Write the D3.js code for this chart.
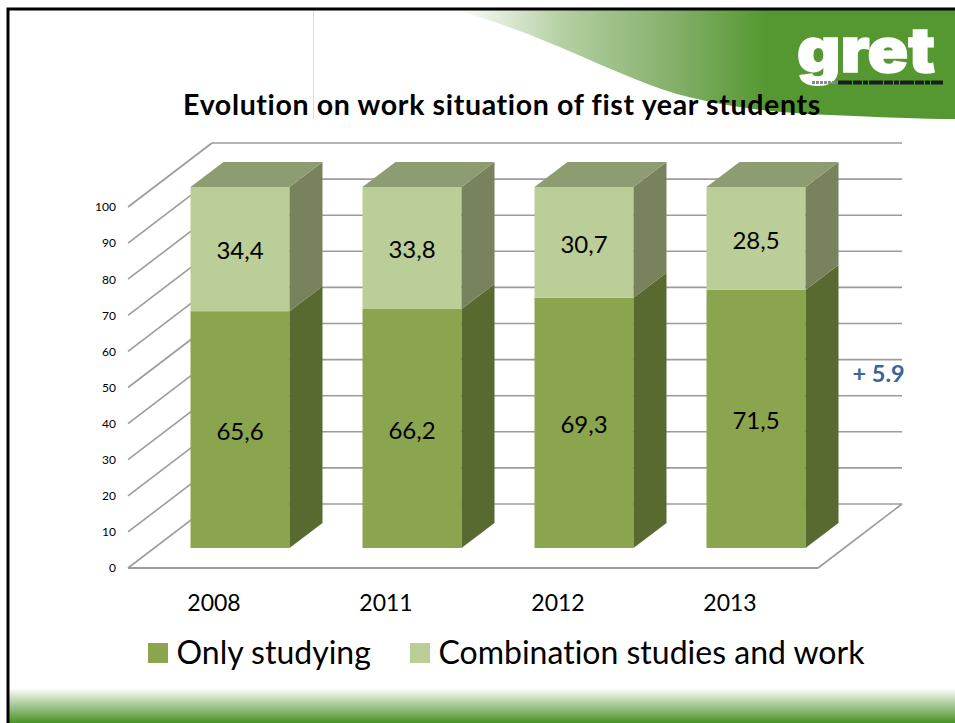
<!DOCTYPE html>
<html>
<head>
<meta charset="utf-8">
<script src="https://cdnjs.cloudflare.com/ajax/libs/d3/7.8.5/d3.min.js"></script>
<style>
  html, body { margin: 0; padding: 0; background: #fff; }
  svg { display: block; font-family: Lato, "Open Sans", sans-serif; font-variant-ligatures: none; }
  .domain { display: none; }
</style>
</head>
<body>
<div id="chart"></div>
<script>
const width = 955;
const height = 723;

const years = ["2008", "2011", "2012", "2013"];
const onlyStudying = [65.6, 66.2, 69.3, 71.5];
const combination = [34.4, 33.8, 30.7, 28.5];
const valueLabelsLow = ["65,6", "66,2", "69,3", "71,5"];
const valueLabelsHigh = ["34,4", "33,8", "30,7", "28,5"];
const yTicks = [0, 10, 20, 30, 40, 50, 60, 70, 80, 90, 100];
const seriesNames = ["Only studying", "Combination studies and work"];
const titleText = "Evolution on work situation of fist year students";
const noteText = "+ 5.9";

// 3d box offsets
const wallDepth = { x: 84, y: -64 };
const barGap = { x: 26, y: -20 };
const barDepth = { x: 33, y: -25 };

const x = d3.scaleBand().domain(years).range([128, 816]).paddingInner(0.4244).paddingOuter(0.2122);
const y = d3.scaleLinear().domain([0, 100]).range([568, 207]);

const svg = d3.select("#chart").append("svg")
  .attr("width", width)
  .attr("height", height);

const defs = svg.append("defs");

const swooshGrad = defs.append("linearGradient").attr("id", "swoosh")
  .attr("gradientUnits", "userSpaceOnUse")
  .attr("x1", 455).attr("x2", 765).attr("y1", 0).attr("y2", 0);
swooshGrad.append("stop").attr("offset", 0).attr("stop-color", "#fff");
swooshGrad.append("stop").attr("offset", 0.35).attr("stop-color", "#b4cfa2");
swooshGrad.append("stop").attr("offset", 0.7).attr("stop-color", "#85b06a");
swooshGrad.append("stop").attr("offset", 1).attr("stop-color", "#559831");

const footGrad = defs.append("linearGradient").attr("id", "foot")
  .attr("x1", 0).attr("x2", 0).attr("y1", 0).attr("y2", 1);
footGrad.append("stop").attr("offset", 0).attr("stop-color", "#fff");
footGrad.append("stop").attr("offset", 1).attr("stop-color", "#4a9127");

// slide background
svg.append("path")
  .attr("d", "M455,10 C530,30 590,62 650,85 C700,104 760,112 830,115 C880,117 920,119 955,119 L955,10 Z")
  .attr("fill", "url(#swoosh)");

svg.append("rect")
  .attr("x", 9).attr("y", 688).attr("width", width - 9).attr("height", 35)
  .attr("fill", "url(#foot)");

svg.append("line")
  .attr("x1", 313.5).attr("x2", 313.5).attr("y1", 10).attr("y2", 119)
  .attr("stroke", "#dcdcdc").attr("stroke-width", 1);

svg.append("path")
  .attr("d", `M8,723 L8,9 L${width},9`)
  .attr("fill", "none").attr("stroke", "#000").attr("stroke-width", 3);

// logo
svg.append("text")
  .attr("x", 797).attr("y", 72)
  .attr("font-family", "Inter").attr("font-weight", 900).attr("font-size", 62)
  .attr("textLength", 138).attr("lengthAdjust", "spacingAndGlyphs")
  .attr("fill", "#fff").attr("stroke", "#fff").attr("stroke-width", 1.5)
  .text("gret");
svg.append("line")
  .attr("x1", 812).attr("x2", 838).attr("y1", 82.5).attr("y2", 82.5)
  .attr("stroke", "#8a8a8a").attr("stroke-width", 3).attr("stroke-dasharray", "3 1");
svg.append("line")
  .attr("x1", 838).attr("x2", 943).attr("y1", 82.5).attr("y2", 82.5)
  .attr("stroke", "#1c1c1c").attr("stroke-width", 4).attr("stroke-dasharray", "14 1 9 1 5 1");

svg.append("text")
  .attr("x", 502).attr("y", 114.5)
  .attr("text-anchor", "middle")
  .attr("font-weight", 700).attr("font-size", 28.5)
  .attr("letter-spacing", 0.65)
  .attr("fill", "#000")
  .text(titleText);

// walls and floor
const gridColor = "#9c9c9c";
const grid = svg.append("g").attr("fill", "none").attr("stroke", gridColor).attr("stroke-width", 1.6);

grid.selectAll(".back").data(yTicks).join("line")
  .attr("class", "back")
  .attr("x1", 128 + wallDepth.x).attr("x2", 818 + wallDepth.x)
  .attr("y1", d => y(d) + wallDepth.y).attr("y2", d => y(d) + wallDepth.y);

grid.selectAll(".side").data(yTicks).join("line")
  .attr("class", "side")
  .attr("x1", 128).attr("x2", 128 + wallDepth.x)
  .attr("y1", d => y(d)).attr("y2", d => y(d) + wallDepth.y);

grid.append("line")
  .attr("x1", 128).attr("x2", 818)
  .attr("y1", y(0)).attr("y2", y(0))
  .attr("stroke-width", 2);
grid.append("line")
  .attr("x1", 818).attr("x2", 818 + wallDepth.x)
  .attr("y1", y(0)).attr("y2", y(0) + wallDepth.y);

// axes
svg.append("g")
  .attr("transform", "translate(128,0)")
  .call(d3.axisLeft(y).tickValues(yTicks).tickSize(0).tickPadding(12))
  .call(g => g.selectAll("text").attr("font-size", 12).attr("font-family", "Lato").attr("fill", "#000"));

svg.append("g")
  .attr("transform", `translate(0,${y(0)})`)
  .call(d3.axisBottom(x).tickSize(0).tickPadding(27))
  .call(g => g.selectAll("text").attr("font-size", 23).attr("font-family", "Lato").attr("fill", "#000"));

// stacked boxes
const stacks = [
  { values: onlyStudying, labels: valueLabelsLow, front: "#8ba54e", side: "#596a30", base: years.map(() => 0) },
  { values: combination, labels: valueLabelsHigh, front: "#bbce97", side: "#78835e", base: onlyStudying }
];
const topColor = "#8e9c71";

const bars = svg.append("g").attr("transform", `translate(${barGap.x},${barGap.y})`);

stacks.forEach(stack => {
  years.forEach((year, i) => {
    const left = x(year);
    const right = left + x.bandwidth();
    const y0 = y(stack.base[i]);
    const y1 = y(stack.base[i] + stack.values[i]);

    bars.append("rect")
      .attr("x", left).attr("y", y1)
      .attr("width", x.bandwidth()).attr("height", y0 - y1)
      .attr("fill", stack.front);

    bars.append("path")
      .attr("d", d3.line()([
        [right, y0], [right + barDepth.x, y0 + barDepth.y],
        [right + barDepth.x, y1 + barDepth.y], [right, y1]
      ]) + "Z")
      .attr("fill", stack.side);

    bars.append("text")
      .attr("x", left + x.bandwidth() / 2)
      .attr("y", (y0 + y1) / 2 + 1.5)
      .attr("dy", "0.36em")
      .attr("text-anchor", "middle")
      .attr("font-size", 24)
      .attr("fill", "#000")
      .text(stack.labels[i]);
  });
});

years.forEach(year => {
  const left = x(year);
  const right = left + x.bandwidth();
  const yTop = y(100);
  bars.append("path")
    .attr("d", d3.line()([
      [left, yTop], [left + barDepth.x, yTop + barDepth.y],
      [right + barDepth.x, yTop + barDepth.y], [right, yTop]
    ]) + "Z")
    .attr("fill", topColor);
});

svg.append("text")
  .attr("x", 878.5).attr("y", 382)
  .attr("text-anchor", "middle")
  .attr("font-weight", 700).attr("font-size", 23.5)
  .attr("fill", "#3b6497")
  .text(noteText);

// legend
const legendX = [148, 410];
const legendColors = [stacks[0].front, stacks[1].front];
seriesNames.forEach((name, i) => {
  svg.append("rect")
    .attr("x", legendX[i]).attr("y", 643)
    .attr("width", 20).attr("height", 20)
    .attr("fill", legendColors[i]);
  svg.append("text")
    .attr("x", legendX[i] + 28.5).attr("y", 664)
    .attr("font-size", 32)
    .attr("fill", "#000")
    .text(name);
});
</script>
</body>
</html>
